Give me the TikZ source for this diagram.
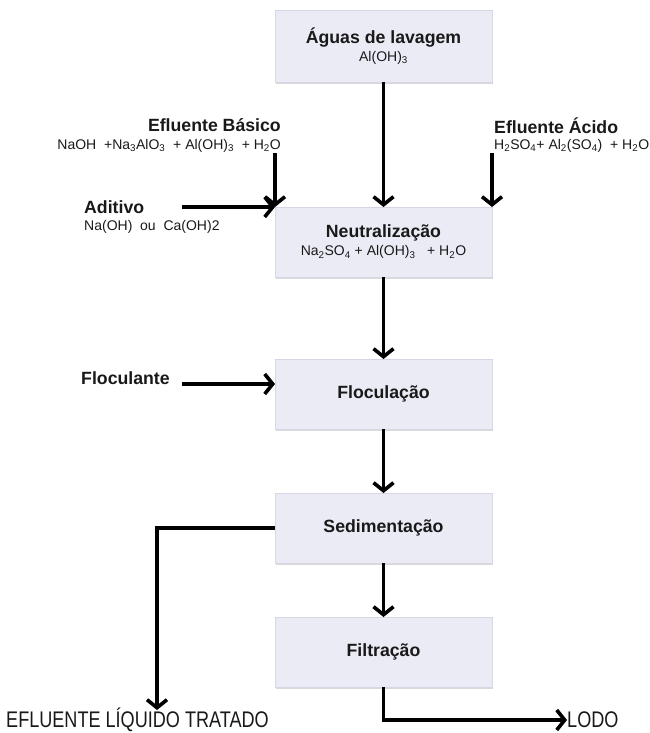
\documentclass[tikz,border=0pt]{standalone}
\usepackage{fontspec}
\setmainfont{Liberation Sans}
\newfontfamily\narrowfont[FakeStretch=0.8]{Liberation Sans}
\usetikzlibrary{positioning,arrows.meta,shadows}
\definecolor{BoxFill}{RGB}{235,235,246}
\definecolor{BoxLine}{RGB}{214,214,228}
\definecolor{Ink}{RGB}{25,25,25}
\newcommand{\stagename}[1]{{\bfseries\fontsize{17.7}{21}\selectfont #1}}

\begin{document}
\begin{tikzpicture}[x=1pt,y=1pt,
    stage/.style={rectangle,draw=BoxLine,fill=BoxFill,line width=0.6pt,minimum width=217pt,minimum height=70pt,outer sep=0pt,align=center,text=Ink,font=\fontsize{14}{18}\selectfont,drop shadow={shadow xshift=0.8pt,shadow yshift=-2.2pt,opacity=0.3}},
    inlet/.style={font=\fontsize{17.7}{20}\selectfont\bfseries,text=Ink,inner sep=0pt},
    formula/.style={font=\fontsize{14}{17}\selectfont,text=Ink,inner sep=0pt},
    outlet/.style={font=\narrowfont\fontsize{22.6}{26}\selectfont,text=Ink,inner sep=0pt},
    arrow/.style={-{Straight Barb[length=8pt,width=20pt]},line width=3.6pt,black}
]
\useasboundingbox (0,0) rectangle (650,-733);

% Process stages
\node[stage,minimum height=72pt] (aguas) at (383.5,-46) {\stagename{Águas de lavagem}\\Al(OH)\textsubscript{3}};
\node[stage] (neutral) at (383.5,-242) {\stagename{Neutralização}\\Na\textsubscript{2}SO\textsubscript{4} + Al(OH)\textsubscript{3} \ \ + H\textsubscript{2}O};
\node[stage] (floc) at (383.5,-394) {\stagename{Floculação}};
\node[stage] (sedim) at (383.5,-528) {\stagename{Sedimentação}};
\node[stage] (filtr) at (383.5,-652) {\stagename{Filtração}};

\draw[arrow] (aguas) -- (neutral);
\draw[arrow] (neutral) -- (floc);
\draw[arrow] (floc) -- (sedim);
\draw[arrow] (sedim) -- (filtr);

% Inlets
\node[inlet,anchor=east] (basico) at (281,-125) {Efluente Básico};
\node[formula,anchor=east] (basico-f) at (281,-146) {NaOH \ +Na\textsubscript{3}AlO\textsubscript{3} \ + Al(OH)\textsubscript{3} \ + H\textsubscript{2}O};
\node[inlet,anchor=west] (aditivo) at (84,-207) {Aditivo};
\node[formula,anchor=west] (aditivo-f) at (84,-227) {Na(OH) \ ou \ Ca(OH)2};
\node[inlet,anchor=west] (acido) at (494,-126) {Efluente Ácido};
\node[formula,anchor=west] (acido-f) at (494,-146) {H\textsubscript{2}SO\textsubscript{4}+ Al\textsubscript{2}(SO\textsubscript{4}) \ + H\textsubscript{2}O};
\node[inlet,anchor=west] (floculante) at (81,-378) {Floculante};

\coordinate (basico-in) at (275,-153);
\coordinate (acido-in) at (492,-153);
\coordinate (aditivo-in) at (182,-207);
\coordinate (floc-in) at (182,-384);

\draw[arrow] (basico-in) -- (neutral.north west);
\draw[arrow] (acido-in) -- (neutral.north east);
\draw[arrow] (aditivo-in) -- (neutral.north west);
\draw[arrow] (floc-in) -- (floc-in -| floc.west);

% Outlets
\node[outlet,anchor=base west] (efluente) at (6,-727.5) {EFLUENTE LÍQUIDO TRATADO};
\node[outlet,anchor=base west] (lodo) at (567,-727.5) {LODO};
\coordinate (efluente-in) at (157,-710);
\coordinate (lodo-in) at (567,-720);

\draw[arrow] (sedim.west) -| (efluente-in);
\draw[arrow] (filtr.south) |- (lodo-in);

\end{tikzpicture}
\end{document}
